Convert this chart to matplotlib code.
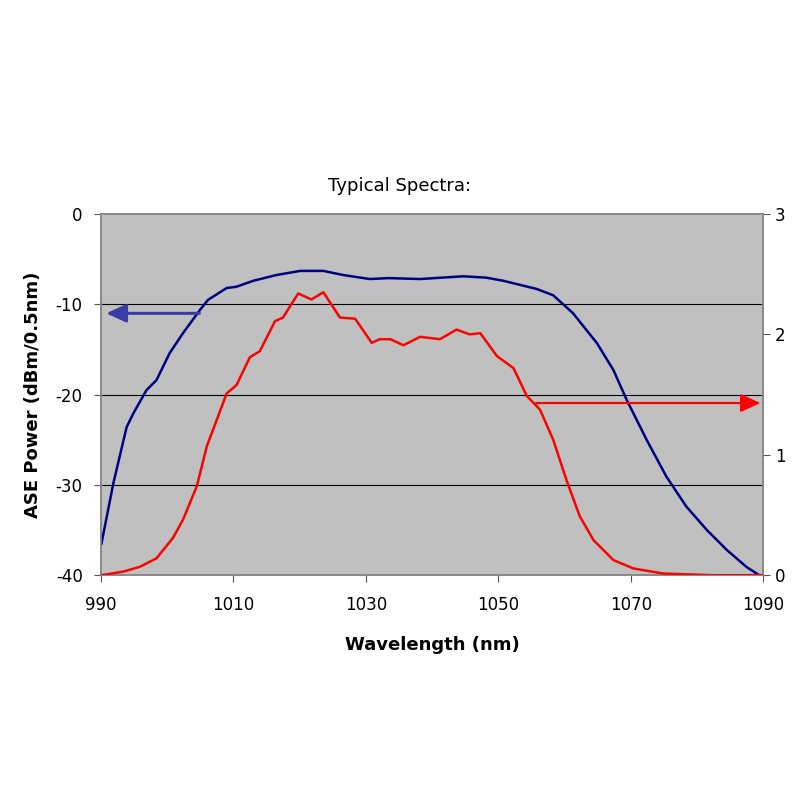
import matplotlib
matplotlib.use("Agg")
import matplotlib.pyplot as plt

plt.rcParams["axes.unicode_minus"] = False

# ASE power (left axis, dBm/0.5nm)
blue_wl = [990.1, 991.9, 993.9, 994.9, 996.9, 998.4, 1000.4, 1002.4, 1005.0, 1006.2,
           1009.0, 1010.5, 1013.0, 1016.5, 1020.1, 1023.6, 1026.6, 1030.6, 1033.4,
           1038.2, 1044.7, 1048.2, 1050.8, 1055.8, 1058.3, 1061.3, 1064.9, 1067.4,
           1069.4, 1072.4, 1075.4, 1078.4, 1081.5, 1084.5, 1087.5, 1089.8]
blue_pw = [-36.5, -29.8, -23.6, -22.1, -19.5, -18.4, -15.4, -13.2, -10.6, -9.5,
           -8.2, -8.05, -7.4, -6.76, -6.3, -6.3, -6.76, -7.2, -7.1,
           -7.2, -6.9, -7.05, -7.4, -8.3, -9.0, -11.0, -14.3, -17.3,
           -20.6, -25.0, -29.1, -32.4, -35.0, -37.2, -39.1, -40.2]

# second spectrum (right axis)
red_wl = [990.1, 993.4, 995.9, 998.4, 1000.9, 1002.4, 1004.5, 1006.0, 1007.5, 1009.0,
          1010.5, 1012.5, 1014.0, 1016.3, 1017.5, 1019.8, 1021.8, 1023.6, 1026.1,
          1028.4, 1030.9, 1032.1, 1033.7, 1035.7, 1038.2, 1041.2, 1043.7, 1045.7,
          1047.3, 1049.8, 1052.3, 1054.3, 1056.3, 1058.3, 1060.3, 1062.3, 1064.4,
          1067.4, 1070.4, 1074.9, 1082.4, 1090.0]
red_val = [0.0, 0.03, 0.07, 0.14, 0.31, 0.46, 0.74, 1.07, 1.29, 1.51,
           1.58, 1.81, 1.86, 2.11, 2.14, 2.34, 2.29, 2.35, 2.14,
           2.13, 1.93, 1.96, 1.96, 1.91, 1.98, 1.96, 2.04, 2.0,
           2.01, 1.82, 1.72, 1.49, 1.375, 1.125, 0.79, 0.49, 0.29,
           0.125, 0.056, 0.014, 0.0, 0.0]

x_ticks = [990, 1010, 1030, 1050, 1070, 1090]
left_ticks = [0, -10, -20, -30, -40]
right_ticks = [0, 1, 2, 3]

fig = plt.figure(figsize=(8, 8), dpi=100)
ax = fig.add_axes([0.126, 0.281, 0.828, 0.4515])
ax.set_facecolor("#c0c0c0")
ax.plot(blue_wl, blue_pw, color="#000080", lw=1.8, zorder=3)
ax.set_xlim(990, 1090)
ax.set_ylim(-40, 0)
ax.set_xticks(x_ticks)
ax.set_yticks(left_ticks)
for g in [-10, -20, -30]:
    ax.axhline(g, color="black", lw=0.8, zorder=1)
ax.tick_params(direction="out", labelsize=12, length=5, color="#555555")
ax.tick_params(axis="x", pad=10)
ax.tick_params(axis="y", pad=8)
ax.set_xlabel("Wavelength (nm)", fontsize=13, fontweight="bold", labelpad=16)
ax.set_ylabel("ASE Power (dBm/0.5nm)", fontsize=13, fontweight="bold", labelpad=10)
for s in ax.spines.values():
    s.set_color("#888888")
    s.set_linewidth(1.2)

ax.annotate("", xy=(990.4, -11), xytext=(1005.3, -11),
            arrowprops=dict(arrowstyle="-|>,head_length=1.2,head_width=0.55",
                            color="#3a3aa8", lw=2.2), zorder=4)

ax2 = ax.twinx()
ax2.plot(red_wl, red_val, color="#ff0000", lw=1.8, zorder=3)
ax2.set_ylim(0, 3)
ax2.set_yticks(right_ticks)
ax2.tick_params(direction="out", labelsize=12, length=5, color="#555555")
for s in ax2.spines.values():
    s.set_color("#888888")
    s.set_linewidth(1.2)
ax2.annotate("", xy=(1090, 1.43), xytext=(1055.3, 1.43),
             arrowprops=dict(arrowstyle="-|>,head_length=1.2,head_width=0.55",
                             color="#ff0000", lw=1.6), zorder=4)

fig.text(0.5, 0.768, "Typical Spectra:", ha="center", va="center", fontsize=13)

fig.savefig("out.png", dpi=100)
